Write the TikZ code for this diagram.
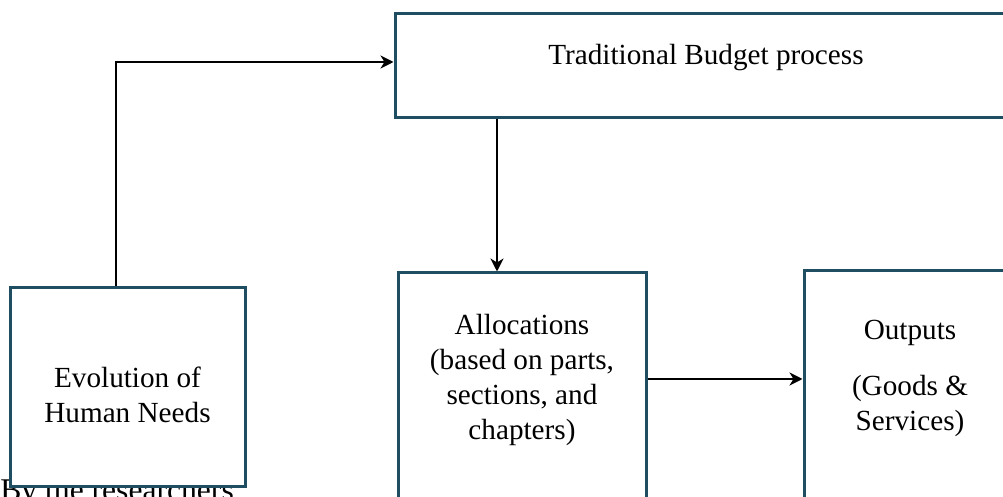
\documentclass[tikz,border=0pt]{standalone}
\usepackage{fontspec}
\setmainfont{Liberation Serif}
\usetikzlibrary{arrows.meta}
\definecolor{boxline}{RGB}{31,78,99}
\begin{document}
\begin{tikzpicture}[x=0.5pt,y=-0.5pt,
  box/.style={draw=boxline,line width=1.5pt,fill=white,inner sep=0pt},
  label/.style={align=center,inner sep=0pt,font=\fontsize{14.6}{17.5}\selectfont},
  arr/.style={draw=black,line width=1.4pt,-{Stealth[length=6.5pt,width=6.5pt,inset=2pt]}}]
\useasboundingbox (0,0) rectangle (1003,497);
\clip (0,0) rectangle (1003,497);
\fill[white] (0,0) rectangle (1003,497);

% source note, partly covered by the left box
\node[label,anchor=base west,font=\fontsize{15.8}{18}\selectfont] (src) at (0,501) {By the researchers};

% boxes
\node[box,minimum width=322.5pt,minimum height=52pt] (tb) at (717.5,66) {};
\node[box,minimum width=117.5pt,minimum height=99.5pt] (ev) at (127.5,387.5) {};
\node[box,minimum width=124pt,minimum height=128.5pt] (al) at (522,401.5) {};
\node[box,minimum width=118pt,minimum height=129.5pt] (out) at (922,400.5) {};

% box texts
\node[label] (tbt) at (706,58) {\strut Traditional Budget process};
\node[label] (evt) at (127.5,398) {\strut Evolution of\\\strut Human Needs};
\node[label] (alt) at (522,380) {\strut Allocations\\\strut (based on parts,\\\strut sections, and\\\strut chapters)};
\node[label] (outt) at (910,378.5) {\strut Outputs\\[10.5pt]\strut (Goods \&\\\strut Services)};

% connectors
\coordinate (a1) at (116,62);
\coordinate (a2) at (497,0);
\coordinate (a3) at (0,379);
\draw[arr] (ev.north -| a1) |- (tb.west |- a1);
\draw[arr] (tb.south -| a2) -- (al.north -| a2);
\draw[arr] (al.east |- a3) -- (out.west |- a3);
\end{tikzpicture}
\end{document}
